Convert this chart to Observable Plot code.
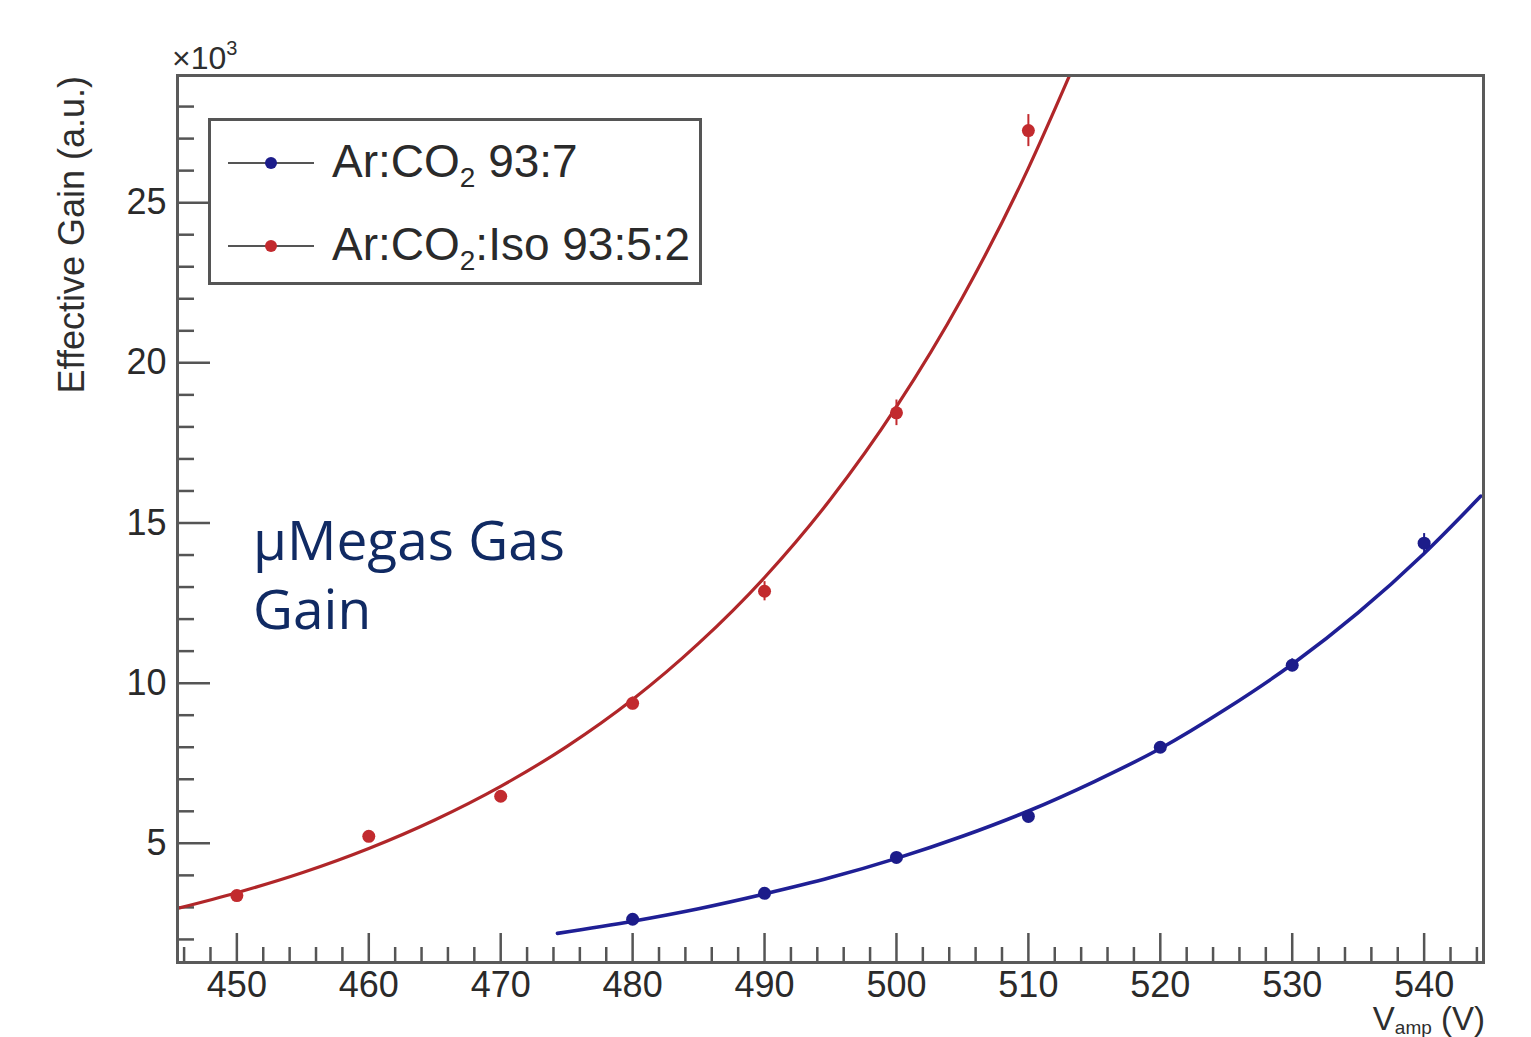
<!DOCTYPE html>
<html>
<head>
<meta charset="utf-8">
<script src="https://cdn.jsdelivr.net/npm/d3@7"></script>
<script src="https://cdn.jsdelivr.net/npm/@observablehq/plot@0.6"></script>
<style>
  html, body { margin: 0; padding: 0; background: #fff; }
  #wrap { position: relative; width: 1531px; height: 1037px; overflow: hidden; font-family: "Liberation Sans", Arial, sans-serif; }
  #wrap svg { position: absolute; left: 0; top: 0; }
  .ov { position: absolute; white-space: nowrap; color: #2e2e2e; }
  #legend { position: absolute; left: 208px; top: 118px; width: 488px; height: 161px; border: 3px solid #555; background: #fff; }
  .entry { position: absolute; left: 0; width: 100%; height: 60px; }
  .entry .ln { position: absolute; left: 17px; width: 86px; top: 29px; height: 0; border-top: 2px solid #555; }
  .entry .dt { position: absolute; left: 54px; top: 24px; width: 12px; height: 12px; border-radius: 50%; }
  .entry .tx { position: absolute; left: 121px; top: 2px; font-size: 46px; line-height: 52px; color: #2a2a2a; }
  .entry sub { font-size: 28px; vertical-align: -10px; line-height: 0; }
  #note { position: absolute; left: 253px; top: 504px; font-family: "Open Sans", sans-serif; font-size: 55px; line-height: 69px; color: #102a63; }
</style>
</head>
<body>
<div id="wrap"></div>
<script>
// ---- data ----
const voltsIso = [450, 460, 470, 480, 490, 500, 510];
const gainIso  = [3.37, 5.22, 6.47, 9.37, 12.87, 18.44, 27.25];
const errIso   = [0.10, 0.12, 0.15, 0.20, 0.30, 0.40, 0.50];

const voltsCO2 = [480, 490, 500, 510, 520, 530, 540];
const gainCO2  = [2.63, 3.44, 4.56, 5.84, 8.00, 10.56, 14.37];
const errCO2   = [0.08, 0.10, 0.12, 0.15, 0.15, 0.20, 0.30];

// fitted curves
const fitIsoV = [445.5, 450, 455, 460, 465, 470, 475, 480, 485, 490, 495, 500, 505, 510, 513.1];
const fitIsoG = [2.97, 3.46, 4.09, 4.84, 5.73, 6.78, 8.02, 9.49, 11.24, 13.30, 15.74, 18.63, 22.04, 26.08, 28.95];
const fitCO2V = [474.3, 480, 485, 490, 495, 500, 505, 510, 515, 520, 525, 530, 535, 540, 544.3];
const fitCO2G = [2.19, 2.57, 2.96, 3.42, 3.93, 4.53, 5.22, 6.01, 6.93, 7.96, 9.20, 10.59, 12.20, 14.05, 15.84];

const xTicks = [450, 460, 470, 480, 490, 500, 510, 520, 530, 540];
const yTicks = [5, 10, 15, 20, 25];
const xMinor = d3.range(446, 545, 2);
const yMinor = d3.range(2, 29, 1);

const seriesNames = ["Ar:CO<sub>2</sub> 93:7", "Ar:CO<sub>2</sub>:Iso 93:5:2"];
const colors = { co2: "#1c1c8a", iso: "#c22a2e" };
const lineColors = { co2: "#1f1f95", iso: "#b02629" };

// ---- tables ----
const ptsIso = voltsIso.map((v, i) => ({ v, g: gainIso[i], e: errIso[i] }));
const ptsCO2 = voltsCO2.map((v, i) => ({ v, g: gainCO2[i], e: errCO2[i] }));
const fitIso = fitIsoV.map((v, i) => ({ v, g: fitIsoG[i] }));
const fitCO2 = fitCO2V.map((v, i) => ({ v, g: fitCO2G[i] }));

const W = 1531, H = 1037;
const mL = 177, mR = 48, mT = 75, mB = 75;
const frameW = W - mL - mR, frameH = H - mT - mB;

const chart = Plot.plot({
  width: W, height: H,
  marginLeft: mL, marginRight: mR, marginTop: mT, marginBottom: mB,
  style: { fontFamily: "Liberation Sans, Arial, sans-serif", background: "transparent", color: "#2a2a2a" },
  x: { domain: [445.5, 544.5] },
  y: { domain: [1.28, 28.97] },
  marks: [
    // inward ticks
    Plot.tickX(xTicks, { x: d => d, insetTop: frameH - 29, stroke: "#555", strokeWidth: 2.5 }),
    Plot.tickX(xMinor.filter(d => !xTicks.includes(d)), { x: d => d, insetTop: frameH - 15, stroke: "#555", strokeWidth: 2.5 }),
    Plot.tickY(yTicks, { y: d => d, insetRight: frameW - 33, stroke: "#555", strokeWidth: 2.5 }),
    Plot.tickY(yMinor.filter(d => !yTicks.includes(d)), { y: d => d, insetRight: frameW - 17, stroke: "#555", strokeWidth: 2.5 }),
    Plot.axisX({ ticks: xTicks, tickSize: 0, tickPadding: 9, fontSize: 36, tickFormat: d => String(d), label: null }),
    Plot.axisY({ ticks: yTicks, tickSize: 0, tickPadding: 11, fontSize: 36, tickFormat: d => String(d), label: null }),
    // fit curves
    Plot.line(fitIso, { x: "v", y: "g", stroke: lineColors.iso, strokeWidth: 3.2, curve: "monotone-x", clip: true }),
    Plot.line(fitCO2, { x: "v", y: "g", stroke: lineColors.co2, strokeWidth: 3.6, curve: "monotone-x", clip: true }),
    // error bars
    Plot.ruleX(ptsIso, { x: "v", y1: d => d.g - d.e, y2: d => d.g + d.e, stroke: colors.iso, strokeWidth: 2 }),
    Plot.ruleX(ptsCO2, { x: "v", y1: d => d.g - d.e, y2: d => d.g + d.e, stroke: colors.co2, strokeWidth: 2 }),
    // points
    Plot.dot(ptsIso, { x: "v", y: "g", r: 6.5, fill: colors.iso, stroke: "none" }),
    Plot.dot(ptsCO2, { x: "v", y: "g", r: 6.5, fill: colors.co2, stroke: "none" }),
    Plot.frame({ stroke: "#5a5a5a", strokeWidth: 3 })
  ]
});

const wrap = document.getElementById("wrap");
wrap.appendChild(chart);

// overlay texts
function addDiv(html, css, cls) {
  const d = document.createElement("div");
  if (cls) d.className = cls;
  d.innerHTML = html;
  Object.assign(d.style, css);
  wrap.appendChild(d);
  return d;
}

// multiplier
addDiv('×10<sup style="font-size:20px;vertical-align:14px;line-height:0">3</sup>',
  { left: "172px", top: "40px", fontSize: "32px", lineHeight: "36px" }, "ov");

// y title (rotated)
addDiv("Effective Gain (a.u.)",
  { left: "72px", top: "76px", fontSize: "36px", lineHeight: "38px",
    transformOrigin: "0 0", transform: "rotate(-90deg) translate(-100%, -50%)" }, "ov");

// x title
addDiv('V<sub style="font-size:19px;vertical-align:-4px;line-height:0">amp</sub> (V)',
  { right: (W - 1485) + "px", top: "1004px", fontSize: "33px", lineHeight: "30px" }, "ov");

// legend
const leg = document.createElement("div");
leg.id = "legend";
wrap.appendChild(leg);
const legendItems = [
  { name: seriesNames[0], color: colors.co2, top: 12 },
  { name: seriesNames[1], color: colors.iso, top: 95 }
];
legendItems.forEach(it => {
  const e = document.createElement("div");
  e.className = "entry";
  e.style.top = it.top + "px";
  e.innerHTML = `<div class="ln"></div><div class="dt" style="background:${it.color}"></div><div class="tx">${it.name}</div>`;
  leg.appendChild(e);
});

// annotation
addDiv("µMegas Gas<br>Gain", {}, null).id = "note";
</script>
</body>
</html>
